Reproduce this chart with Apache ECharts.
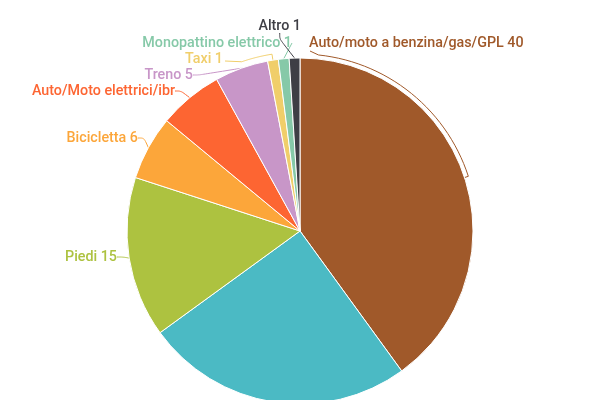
<!DOCTYPE html>
<html><head><meta charset="utf-8">
<script src="https://cdn.jsdelivr.net/npm/echarts@6/dist/echarts.min.js"></script>
<style>html,body{margin:0;padding:0;background:#fff}#c{width:600px;height:400px}</style>
</head><body><div id="c"></div>
<script>
const categories = ["Auto/moto a benzina/gas/GPL","Mezzi pubblici","Piedi","Bicicletta","Auto/Moto elettrici/ibride","Treno","Taxi","Monopattino elettrico","Altro"];
const values = [40,25,15,6,6,5,1,1,1];
const colors = ["#A0592A","#4BBAC4","#ADC240","#FCA63A","#FD6532","#C896C8","#F0CE6A","#86C9A8","#3E3E45"];
const labelPos = [[309,43,'left'],[240,410,'right'],[117,257,'right'],[138,138,'right'],[175,91,'right'],[193,75,'right'],[223,59,'right'],[292,43,'right'],[301,26,'right']];

const CX = 300, CY = 231, R = 173;
// guide lines that follow the rim: [target angle (deg, from top clockwise), radius, end point]
const rimGuides = {0:[6,177,[310,51]], 6:[-19,179,[225,61]]};

function rimPoints(p){
  const g = rimGuides[p.dataIndex];
  const s = p.labelLinePoints[0];
  let a0 = Math.atan2(s[0]-CX, CY-s[1])*180/Math.PI;
  const a1 = g[0];
  if (a0 > 180 && a1 < 0) a0 -= 360;
  if (a0 < a1 - 180) a0 += 360;
  const pts = [[s[0],s[1]]];
  const n = 30;
  for (let k=0;k<=n;k++){
    const a = (a0 + (a1-a0)*k/n)*Math.PI/180;
    pts.push([CX + g[1]*Math.sin(a), CY - g[1]*Math.cos(a)]);
  }
  pts.push(g[2]);
  return pts;
}

const chart = echarts.init(document.getElementById('c'));
chart.setOption({
  animation:false,
  series:[{
    type:'pie',
    center:[CX,CY],
    radius:R,
    startAngle:90,
    clockwise:true,
    itemStyle:{borderColor:'#fff',borderWidth:1},
    data:categories.map((n,i)=>({name:n,value:values[i],itemStyle:{color:colors[i]},
      labelLine: rimGuides[i] ? {smooth:false} : {},
      label:i===4?{width:146,overflow:'truncate',ellipsis:''}:{overflow:'none'}})),
    label:{
      show:true,
      formatter:p=>p.dataIndex===4?p.name:p.name+' '+p.value,
      color:'inherit',
      fontFamily:'Roboto',
      fontSize:14.3,
      fontWeight:500
    },
    labelLine:{show:true,length:8,length2:6,smooth:0.3,lineStyle:{width:1}},
    labelLayout:function(p){
      const lp = labelPos[p.dataIndex];
      const o = {x:lp[0],y:lp[1],align:lp[2],verticalAlign:'middle'};
      if (rimGuides[p.dataIndex] && p.labelLinePoints) o.labelLinePoints = rimPoints(p);
      return o;
    }
  }]
});
</script></body></html>
